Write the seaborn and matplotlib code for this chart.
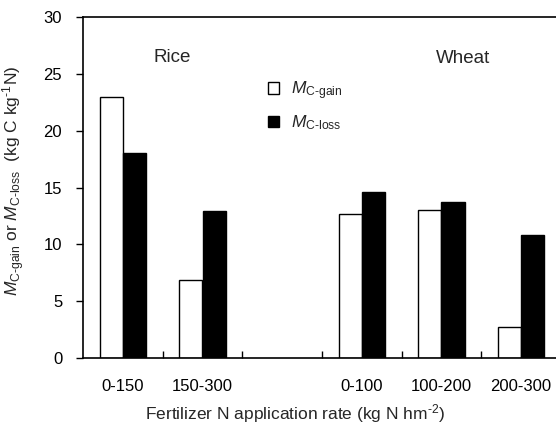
import matplotlib
matplotlib.use("Agg")
import matplotlib.pyplot as plt
import seaborn as sns
import pandas as pd
from matplotlib.ticker import FixedLocator

# Fertilizer N rate classes (kg N hm-2) for each crop
rice_rates = ["0-150", "150-300"]
wheat_rates = ["0-100", "100-200", "200-300"]

# Carbon gain / loss per unit fertilizer N (kg C kg-1 N)
rice_gain = [23.0, 6.9]
rice_loss = [18.0, 12.9]
wheat_gain = [12.7, 13.0, 2.7]
wheat_loss = [14.6, 13.7, 10.8]

gain_label = r"$M_{\text{C-gain}}$"
loss_label = r"$M_{\text{C-loss}}$"

rows = []
for rates, gain, loss in [(rice_rates, rice_gain, rice_loss),
                          (wheat_rates, wheat_gain, wheat_loss)]:
    for r, g, l in zip(rates, gain, loss):
        rows.append({"rate": r, "metric": gain_label, "value": g})
        rows.append({"rate": r, "metric": loss_label, "value": l})
df = pd.DataFrame(rows)

gap_slot = " "
order = rice_rates + [gap_slot] + wheat_rates

sns.set_style("white")
plt.rcParams["font.family"] = ["Liberation Sans", "DejaVu Sans"]
plt.rcParams["mathtext.fontset"] = "custom"
plt.rcParams["mathtext.rm"] = "Liberation Sans"
plt.rcParams["mathtext.it"] = "Liberation Sans:italic"
plt.rcParams["mathtext.bf"] = "Liberation Sans:bold"

fig = plt.figure(figsize=(5.56, 4.32), dpi=100)
ax = fig.add_axes([83 / 556, 1 - 358 / 432, (561 - 83) / 556, (358 - 17) / 432])

sns.barplot(data=df, x="rate", y="value", hue="metric", order=order,
            hue_order=[gain_label, loss_label],
            palette={gain_label: "white", loss_label: "black"},
            edgecolor="black", linewidth=1.0, width=0.58, gap=0,
            errorbar=None, ax=ax)

ax.set_xlim(-0.5, len(order) - 0.5)
ax.set_ylim(0, 30)
ax.set_yticks([0, 5, 10, 15, 20, 25, 30])
ax.set_xticks(range(len(order)))
ax.set_xticklabels(rice_rates + [""] + wheat_rates)
ax.xaxis.set_minor_locator(FixedLocator([i + 0.5 for i in range(len(order) - 1)]))

for side in ["left", "bottom", "top", "right"]:
    ax.spines[side].set_visible(True)
    ax.spines[side].set_color("black")
    ax.spines[side].set_linewidth(1.2)

ax.tick_params(axis="x", which="major", length=0, pad=15, labelsize=12, colors="black")
ax.tick_params(axis="x", which="minor", direction="in", length=5, width=1, bottom=True, color="black")
ax.tick_params(axis="y", direction="out", length=5, width=1, pad=10, labelsize=12,
               left=True, colors="black")

ax.set_xlabel(r"Fertilizer N application rate (kg N hm$^{\text{-2}}$)", fontsize=12.5)
ax.set_ylabel(r"$M_{\text{C-gain}}$ or $M_{\text{C-loss}}$  (kg C kg$^{\text{-1}}$N)", fontsize=12.5)
ax.xaxis.set_label_coords((295 - 83) / (561 - 83), -44 / 341)
ax.yaxis.set_label_coords(-56 / 478, 0.52)

ax.text((172 - 83) / 478, 0.882, "Rice", transform=ax.transAxes, ha="center", va="center", fontsize=13.5)
ax.text((463 - 83) / 478, 0.879, "Wheat", transform=ax.transAxes, ha="center", va="center", fontsize=13.5)

ax.legend(loc="upper left", bbox_to_anchor=(268 / 556, 1 - 79 / 432), bbox_transform=fig.transFigure,
          frameon=False, fontsize=12.5, handlelength=0.65, handleheight=0.65,
          handletextpad=0.7, labelspacing=0.7, borderpad=0, borderaxespad=0)

fig.savefig("out.png", dpi=100)
